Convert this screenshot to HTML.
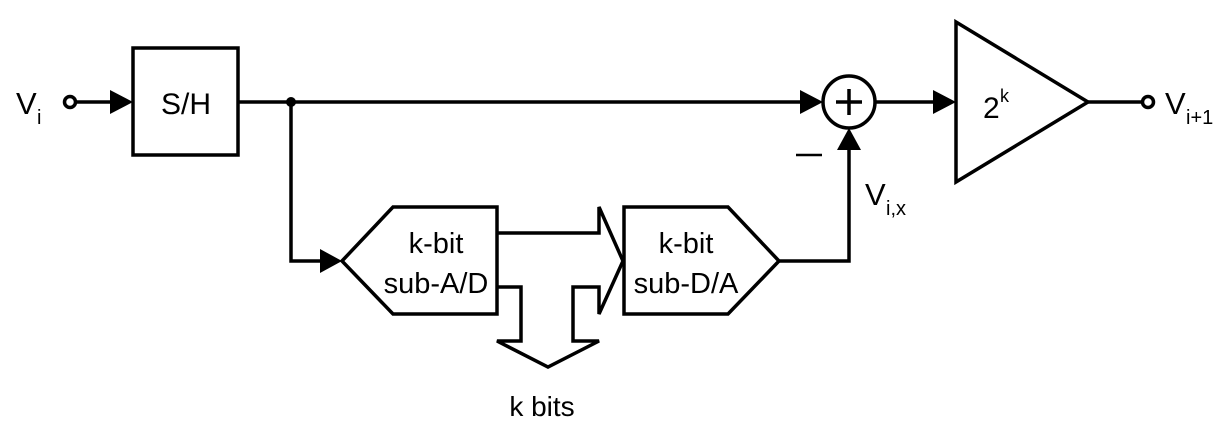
<!DOCTYPE html>
<html><head><style>body{margin:0;background:#fff}svg{display:block}text{font-family:"Liberation Sans",Arial,sans-serif;fill:#000}</style></head><body>
<svg width="1227" height="428" viewBox="0 0 1227 428" xmlns="http://www.w3.org/2000/svg">
<g stroke="#000" stroke-width="3.5" fill="none">
<circle cx="70" cy="102" r="5.5"/>
<line x1="76" y1="102" x2="112" y2="102"/>
<rect x="133" y="48" width="105" height="107"/>
<line x1="238" y1="102" x2="802" y2="102"/>
<polyline points="291,102 291,261 322,261"/>
<circle cx="849" cy="102" r="26"/>
<line x1="836" y1="102" x2="862" y2="102"/>
<line x1="849" y1="89" x2="849" y2="115"/>
<line x1="875" y1="102" x2="935" y2="102"/>
<polygon points="956,22 1088,102 956,182"/>
<line x1="1088" y1="102" x2="1142" y2="102"/>
<circle cx="1148" cy="102" r="5.5"/>
<polyline points="779,261 849,261 849,150"/>
<line x1="796" y1="155" x2="822" y2="155" stroke-width="2.5"/>
<polygon points="342,261 393,207 497,207 497,314 393,314"/>
<polygon points="624,207 728,207 779,261 728,314 624,314"/>
<polyline points="497,233 599,233 599,207 623,261 599,314 599,287 573,287 573,341 599,341 548,367 497,341 521,341 521,287 497,287"/>
</g>
<g fill="#000">
<polygon points="110,90 133,102 110,114"/>
<polygon points="800,90 823,102 800,114"/>
<polygon points="933,90 956,102 933,114"/>
<polygon points="320,249 342,261 320,273"/>
<polygon points="837,150 849,128 861,150"/>
<circle cx="291" cy="102" r="5"/>
</g>
<text x="16" y="114" style="font-size:31px">V</text><text x="37" y="124" style="font-size:20px">i</text>
<text x="186" y="114" style="font-size:30px" text-anchor="middle">S/H</text>
<text x="436" y="253" style="font-size:29px" text-anchor="middle">k-bit</text>
<text x="436" y="293" style="font-size:29px" text-anchor="middle">sub-A/D</text>
<text x="686" y="253" style="font-size:29px" text-anchor="middle">k-bit</text>
<text x="686" y="293" style="font-size:29px" text-anchor="middle">sub-D/A</text>
<text x="983" y="118" style="font-size:30px">2</text><text x="1000" y="102" style="font-size:18px">k</text>
<text x="1165" y="114" style="font-size:31px">V</text><text x="1186" y="124" style="font-size:20px">i+1</text>
<text x="865" y="205" style="font-size:31px">V</text><text x="886" y="215" style="font-size:20px">i,x</text>
<text x="542" y="416" style="font-size:28px" text-anchor="middle">k bits</text>
</svg>
</body></html>
